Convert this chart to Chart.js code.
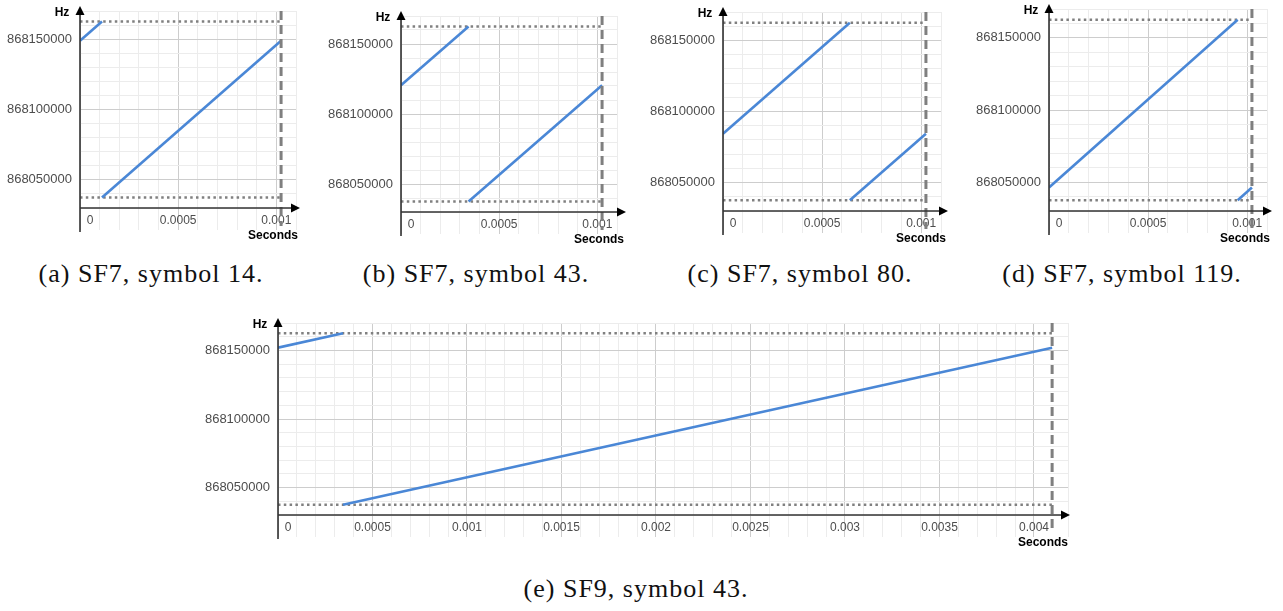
<!DOCTYPE html>
<html>
<head>
<meta charset="utf-8">
<script src="https://cdn.jsdelivr.net/npm/chart.js@4.4.0/dist/chart.umd.min.js"></script>
<style>
  html, body { margin: 0; padding: 0; background: #fff; overflow: hidden; }
  body { position: relative; width: 1283px; height: 611px; }
  canvas { position: absolute; }
  .cap {
    position: absolute;
    font-family: "Liberation Serif", "Times New Roman", serif;
    font-size: 26px;
    line-height: 26px;
    letter-spacing: 1px;
    white-space: nowrap;
    color: #111;
    transform: translateX(-50%);
  }
</style>
</head>
<body>
<script>
// LoRa up-chirps around 868.1 MHz, BW 125 kHz
const bandLow = 868037500;
const bandHigh = 868162500;

const captions = [
  "(a) SF7, symbol 14.",
  "(b) SF7, symbol 43.",
  "(c) SF7, symbol 80.",
  "(d) SF7, symbol 119.",
  "(e) SF9, symbol 43."
];
// symbol duration (s), time where the chirp wraps, start frequency (Hz)
const symbolEnd = [0.001024, 0.001024, 0.001024, 0.001024, 0.004096];
const wrapTime = [0.000112, 0.000344, 0.00064, 0.000952, 0.000344];
const startFreq = [868148800, 868120500, 868084400, 868046300, 868152000];

// axis ranges
const timeMax = [0.0011, 0.0011, 0.0011, 0.0011, 0.00418];
const freqMin = 868030000;
const freqMax = 868170000;
const freqStep = 10000;
const freqMajor = 50000;
const timeStep = 0.0001;
const timeMajor = 0.0005;

// plot boxes on the page: left, top, right, bottom, arrow tip x
const boxes = [
  [80, 11, 296, 208, 300],
  [401, 16, 617, 212, 626],
  [723, 12, 941, 211, 948],
  [1049, 9, 1267, 211, 1272],
  [278, 323, 1068, 515, 1070]
];
const captionPos = [[151, 261], [476, 261], [800, 261], [1122, 261], [636, 576]];

const labelFont = { family: "'Liberation Sans', Arial, sans-serif", size: 13 };
const padL = 80, padT = 16, padR = 24, padB = 40;

const isMajorTime = v => Math.abs(v / timeMajor - Math.round(v / timeMajor)) < 1e-6;
const isMajorFreq = v => Math.round(v) % freqMajor === 0;

// axes with arrow heads, the symbol boundary and the axis titles
const axisDecor = {
  id: 'axisDecor',
  afterDatasetsDraw(chart, args, opts) {
    const { ctx, chartArea: a, scales: { x } } = chart;
    const endX = x.getPixelForValue(opts.end);
    ctx.save();
    ctx.strokeStyle = '#7f7f7f';
    ctx.lineWidth = 3;
    ctx.setLineDash([9, 5]);
    ctx.beginPath();
    ctx.moveTo(endX, a.top);
    ctx.lineTo(endX, a.bottom + 18);
    ctx.stroke();
    ctx.setLineDash([]);

    ctx.strokeStyle = '#333';
    ctx.lineWidth = 1.6;
    ctx.beginPath();
    ctx.moveTo(a.left, a.top - 2);
    ctx.lineTo(a.left, a.bottom + 24);
    ctx.moveTo(a.left, a.bottom);
    ctx.lineTo(opts.tip - 4, a.bottom);
    ctx.stroke();

    ctx.fillStyle = '#000';
    ctx.beginPath();
    ctx.moveTo(a.left, a.top - 5);
    ctx.lineTo(a.left - 4.5, a.top + 4);
    ctx.lineTo(a.left + 4.5, a.top + 4);
    ctx.closePath();
    ctx.fill();
    ctx.beginPath();
    ctx.moveTo(opts.tip, a.bottom);
    ctx.lineTo(opts.tip - 9, a.bottom - 4.5);
    ctx.lineTo(opts.tip - 9, a.bottom + 4.5);
    ctx.closePath();
    ctx.fill();

    ctx.font = "bold 12px 'Liberation Sans', Arial, sans-serif";
    ctx.textBaseline = 'middle';
    ctx.textAlign = 'center';
    ctx.fillText('Hz', a.left - 18, a.top + 2);
    ctx.textAlign = 'right';
    ctx.fillText('Seconds', opts.tip - 2, a.bottom + 28);
    ctx.restore();
  }
};

function makePanel(i) {
  const [L, T, R, B, tip] = boxes[i];
  const canvas = document.createElement('canvas');
  const offX = L - padL;
  const offY = T - padT;
  canvas.width = R - L + padL + padR;
  canvas.height = B - T + padT + padB;
  canvas.style.left = offX + 'px';
  canvas.style.top = offY + 'px';
  document.body.appendChild(canvas);

  const cap = document.createElement('div');
  cap.className = 'cap';
  cap.textContent = captions[i];
  cap.style.left = captionPos[i][0] + 'px';
  cap.style.top = captionPos[i][1] + 'px';
  document.body.appendChild(cap);

  const end = symbolEnd[i];
  const wrap = wrapTime[i];
  const f0 = startFreq[i];

  new Chart(canvas, {
    type: 'line',
    data: {
      datasets: [
        {
          data: [{ x: 0, y: f0 }, { x: wrap, y: bandHigh }],
          borderColor: '#4a87d6',
          borderWidth: 2.6
        },
        {
          data: [{ x: wrap, y: bandLow }, { x: end, y: f0 }],
          borderColor: '#4a87d6',
          borderWidth: 2.6
        },
        {
          data: [{ x: 0, y: bandHigh }, { x: end, y: bandHigh }],
          borderColor: '#808080',
          borderWidth: 2.5,
          borderDash: [2.5, 3.3]
        },
        {
          data: [{ x: 0, y: bandLow }, { x: end, y: bandLow }],
          borderColor: '#808080',
          borderWidth: 2.5,
          borderDash: [2.5, 3.3]
        }
      ]
    },
    options: {
      responsive: false,
      animation: false,
      events: [],
      elements: { point: { radius: 0 }, line: { tension: 0 } },
      layout: { padding: { left: 0, top: padT, right: padR, bottom: 0 } },
      plugins: {
        legend: { display: false },
        tooltip: { enabled: false },
        axisDecor: { end: end, tip: tip - offX }
      },
      scales: {
        x: {
          type: 'linear',
          min: 0,
          max: timeMax[i],
          afterFit: s => { s.height = padB; },
          border: { display: false },
          grid: {
            color: c => isMajorTime(c.tick.value) ? '#cdcdcd' : '#ececec',
            tickLength: 22
          },
          ticks: {
            stepSize: timeStep,
            autoSkip: false,
            maxRotation: 0,
            padding: -17,
            color: '#4d4d4d',
            font: { family: labelFont.family, size: 12 },
            callback: v => {
              if (!isMajorTime(v) || v > end) return '';
              return v === 0 ? '      0' : String(+v.toFixed(4));
            }
          }
        },
        y: {
          min: freqMin,
          max: freqMax,
          afterFit: s => { s.width = padL; },
          border: { display: false },
          grid: {
            color: c => isMajorFreq(c.tick.value) ? '#cdcdcd' : '#ececec',
            drawTicks: false
          },
          ticks: {
            stepSize: freqStep,
            autoSkip: false,
            padding: 8,
            color: '#4d4d4d',
            font: labelFont,
            callback: v => isMajorFreq(v) && v > freqMin && v < freqMax ? String(v) : ''
          }
        }
      }
    },
    plugins: [axisDecor]
  });
}

for (let i = 0; i < boxes.length; i++) makePanel(i);
</script>
</body>
</html>
